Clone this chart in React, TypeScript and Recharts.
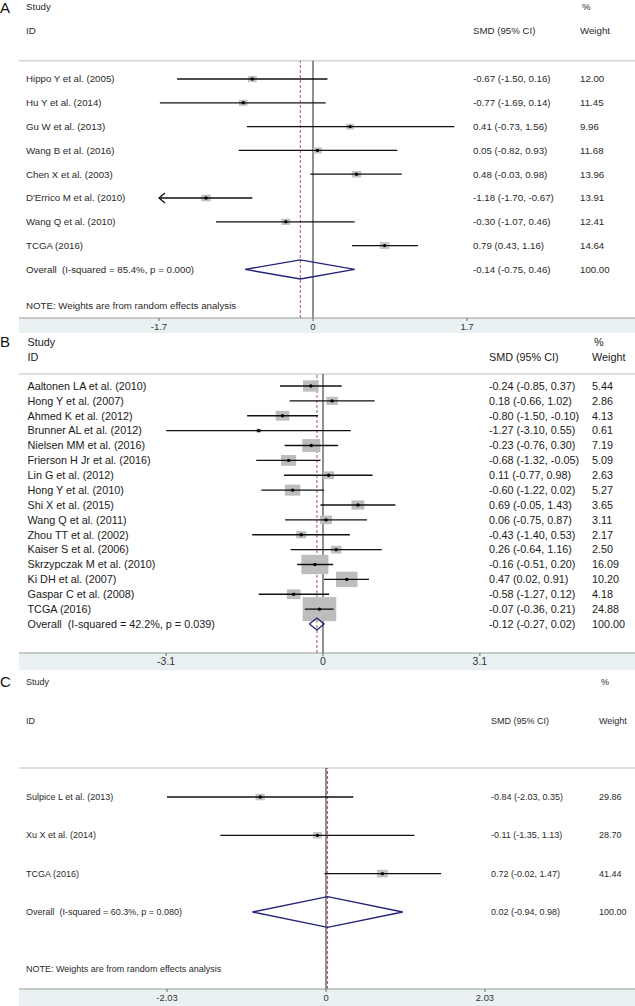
import React from 'react';
import { ComposedChart, Scatter, XAxis, YAxis, ReferenceLine } from 'recharts';

// ---- Panel A data ----
const studiesA = [
  'Hippo Y et al. (2005)',
  'Hu Y et al. (2014)',
  'Gu W et al. (2013)',
  'Wang B et al. (2016)',
  'Chen X et al. (2003)',
  "D'Errico M et al. (2010)",
  'Wang Q et al. (2010)',
  'TCGA (2016)',
];
const smdA = [-0.67, -0.77, 0.41, 0.05, 0.48, -1.18, -0.3, 0.79];
const lowA = [-1.5, -1.69, -0.73, -0.82, -0.03, -1.7, -1.07, 0.43];
const highA = [0.16, 0.14, 1.56, 0.93, 0.98, -0.67, 0.46, 1.16];
const weightA = [12.0, 11.45, 9.96, 11.68, 13.96, 13.91, 12.41, 14.64];
const arrowA = [false, false, false, false, false, true, false, false];
const overallA = { label: 'Overall  (I-squared = 85.4%, p = 0.000)', smd: -0.14, low: -0.75, high: 0.46 };
const ticksA = [-1.7, 0, 1.7];

// ---- Panel B data ----
const studiesB = [
  'Aaltonen LA et al. (2010)',
  'Hong Y et al. (2007)',
  'Ahmed K et al. (2012)',
  'Brunner AL et al. (2012)',
  'Nielsen MM et al. (2016)',
  'Frierson H Jr et al. (2016)',
  'Lin G et al. (2012)',
  'Hong Y et al. (2010)',
  'Shi X et al. (2015)',
  'Wang Q et al. (2011)',
  'Zhou TT et al. (2002)',
  'Kaiser S et al. (2006)',
  'Skrzypczak M et al. (2010)',
  'Ki DH et al. (2007)',
  'Gaspar C et al. (2008)',
  'TCGA (2016)',
];
const smdB = [-0.24, 0.18, -0.8, -1.27, -0.23, -0.68, 0.11, -0.6, 0.69, 0.06, -0.43, 0.26, -0.16, 0.47, -0.58, -0.07];
const lowB = [-0.85, -0.66, -1.5, -3.1, -0.76, -1.32, -0.77, -1.22, -0.05, -0.75, -1.4, -0.64, -0.51, 0.02, -1.27, -0.36];
const highB = [0.37, 1.02, -0.1, 0.55, 0.3, -0.05, 0.98, 0.02, 1.43, 0.87, 0.53, 1.16, 0.2, 0.91, 0.12, 0.21];
const weightB = [5.44, 2.86, 4.13, 0.61, 7.19, 5.09, 2.63, 5.27, 3.65, 3.11, 2.17, 2.5, 16.09, 10.2, 4.18, 24.88];
const arrowB = studiesB.map(() => false);
const overallB = { label: 'Overall  (I-squared = 42.2%, p = 0.039)', smd: -0.12, low: -0.27, high: 0.02 };
const ticksB = [-3.1, 0, 3.1];

// ---- Panel C data ----
const studiesC = ['Sulpice L et al. (2013)', 'Xu X et al. (2014)', 'TCGA (2016)'];
const smdC = [-0.84, -0.11, 0.72];
const lowC = [-2.03, -1.35, -0.02];
const highC = [0.35, 1.13, 1.47];
const weightC = [29.86, 28.7, 41.44];
const arrowC = [false, false, false];
const overallC = { label: 'Overall  (I-squared = 60.3%, p = 0.080)', smd: 0.02, low: -0.94, high: 0.98 };
const ticksC = [-2.03, 0, 2.03];

const NOTE = 'NOTE: Weights are from random effects analysis';
const FONT = '"Liberation Sans", Arial, Helvetica, sans-serif';
const W = 635;
const LEFT = 19;

const fmt = (v: number) => v.toFixed(2);
const Empty = () => <g />;

const ForestPanel = ({ cfg }: { cfg: any }) => {
  const { names, smd, low, high, weight, arrows, overall, ticks } = cfg;
  const limit = ticks[ticks.length - 1];
  const n = names.length;
  const xMin = (LEFT - cfg.zeroX) / cfg.ppu;
  const xMax = (W - cfg.zeroX) / cfg.ppu;
  const yTop = (cfg.sepY - cfg.rowY0) / cfg.rowStep;
  const yBot = (cfg.axisY - cfg.rowY0) / cfg.rowStep;
  const noteIdx = cfg.noteY != null ? (cfg.noteY - cfg.rowY0) / cfg.rowStep : null;

  // one label point per row; the text is placed on the row's y from the axis scale
  const rows: any[] = names.map((name: string, i: number) => ({
    x: 0,
    y: i,
    name,
    ci: `${fmt(smd[i])} (${fmt(low[i])}, ${fmt(high[i])})`,
    w: fmt(weight[i]),
  }));
  rows.push({ x: 0, y: n, name: overall.label, ci: `${fmt(overall.smd)} (${fmt(overall.low)}, ${fmt(overall.high)})`, w: '100.00' });
  if (noteIdx != null) rows.push({ x: 0, y: noteIdx, name: NOTE, ci: '', w: '' });

  const boxes = names.map((_: string, i: number) => ({ x: smd[i], y: i, w: weight[i] }));
  const ciLines = names.map((_: string, i: number) => [
    { x: Math.max(low[i], -limit), y: i },
    { x: high[i], y: i },
  ]);
  const diamond = [
    { x: overall.low, y: n },
    { x: overall.smd, y: n - 0.4 },
    { x: overall.high, y: n },
    { x: overall.smd, y: n + 0.4 },
    { x: overall.low, y: n },
  ];
  const arrowPts = names
    .map((_: string, i: number) => ({ x: -limit, y: i, on: arrows[i] }))
    .filter((p: any) => p.on);

  const txt = { fontFamily: FONT, fontSize: cfg.fontSize, fill: cfg.textFill };

  const RowText = (props: any) => {
    const { cy, payload } = props;
    return (
      <g>
        <text x={cfg.nameX} y={cy} dy="0.35em" {...txt} xmlSpace="preserve" style={{ whiteSpace: 'pre' }}>
          {payload.name}
        </text>
        {payload.ci ? (
          <text x={cfg.ciX} y={cy} dy="0.35em" {...txt}>
            {payload.ci}
          </text>
        ) : null}
        {payload.w ? (
          <text x={cfg.wX} y={cy} dy="0.35em" {...txt}>
            {payload.w}
          </text>
        ) : null}
      </g>
    );
  };

  const Box = (props: any) => {
    const { cx, cy, payload } = props;
    const h = cfg.boxScale * Math.sqrt(payload.w);
    const w = h * 1.4;
    return <rect x={cx - w / 2} y={cy - h / 2} width={w} height={h} fill={cfg.boxFill} />;
  };
  const Dot = (props: any) => <circle cx={props.cx} cy={props.cy} r={1.7} fill="#000" />;
  const Arrow = (props: any) => (
    <path
      d={`M${props.cx + 6},${props.cy - 5} L${props.cx},${props.cy} L${props.cx + 6},${props.cy + 5}`}
      fill="none"
      stroke="#111"
      strokeWidth={1.3}
    />
  );

  return (
    <div style={{ position: 'absolute', left: 0, top: cfg.top, width: W, height: cfg.height }}>
      <div
        style={{
          position: 'absolute',
          left: LEFT,
          top: cfg.axisY,
          width: W - LEFT,
          height: cfg.height - cfg.axisY,
          background: '#eaf1f3',
        }}
      />
      <div style={{ position: 'absolute', left: 0, top: 0 }}>
        <ComposedChart width={W} height={cfg.height} margin={{ top: cfg.sepY, left: LEFT, right: 0, bottom: 0 }}>
          <XAxis
            type="number"
            dataKey="x"
            domain={[xMin, xMax]}
            allowDataOverflow
            ticks={ticks}
            interval={0}
            tickFormatter={(v: number) => String(v)}
            height={cfg.height - cfg.axisY}
            tickSize={3}
            axisLine={{ stroke: '#9a9a9a' }}
            tickLine={{ stroke: '#666' }}
            tick={{ fontFamily: FONT, fontSize: cfg.tickFont, fill: '#333' }}
          />
          <YAxis type="number" dataKey="y" domain={[yTop, yBot]} reversed allowDataOverflow hide />
          <ReferenceLine y={yTop} stroke="#d4d4d4" strokeWidth={1.5} />
          <ReferenceLine x={0} stroke="#222" strokeWidth={1} />
          <ReferenceLine x={overall.smd} stroke="#a8574f" strokeWidth={1} strokeDasharray="3 2" />
          <Scatter data={boxes} shape={Box} isAnimationActive={false} />
          {ciLines.map((seg: any, i: number) => (
            <Scatter
              key={i}
              data={seg}
              fill="none"
              line={{ stroke: '#111', strokeWidth: 1.3 }}
              shape={Empty}
              isAnimationActive={false}
            />
          ))}
          <Scatter data={boxes} shape={Dot} isAnimationActive={false} />
          <Scatter data={arrowPts} shape={Arrow} isAnimationActive={false} />
          <Scatter
            data={diamond}
            fill="none"
            line={{ stroke: '#23237a', strokeWidth: 1.4 }}
            shape={Empty}
            isAnimationActive={false}
          />
          <Scatter data={rows} shape={RowText} isAnimationActive={false} />
          <text x={0} y={cfg.letterY} dy="0.35em" fontFamily={FONT} fontSize={15} fill="#111">
            {cfg.letter}
          </text>
          <text x={cfg.nameX} y={cfg.studyY} dy="0.35em" {...txt}>Study</text>
          <text x={cfg.wX + 2} y={cfg.studyY} dy="0.35em" {...txt}>%</text>
          <text x={cfg.nameX} y={cfg.idY} dy="0.35em" {...txt}>ID</text>
          <text x={cfg.ciX} y={cfg.idY} dy="0.35em" {...txt}>SMD (95% CI)</text>
          <text x={cfg.wX} y={cfg.idY} dy="0.35em" {...txt}>Weight</text>
        </ComposedChart>
      </div>
    </div>
  );
};

const panelA = {
  letter: 'A', top: 0, height: 333, sepY: 60.7, rowY0: 79, rowStep: 23.8, axisY: 318, noteY: 306,
  zeroX: 313, ppu: 90.6, fontSize: 9.7, tickFont: 9.5, studyY: 7, idY: 31, letterY: 8,
  nameX: 26, ciX: 473, wX: 580, boxScale: 1.8, boxFill: '#c4c4c4', textFill: '#2a2a2a',
  names: studiesA, smd: smdA, low: lowA, high: highA, weight: weightA, arrows: arrowA, overall: overallA, ticks: ticksA,
};
const panelB = {
  letter: 'B', top: 333, height: 337, sepY: 41, rowY0: 53, rowStep: 14.875, axisY: 320,
  zeroX: 323, ppu: 50.6, fontSize: 10.8, tickFont: 10.5, studyY: 9, idY: 24, letterY: 9,
  nameX: 27.5, ciX: 489, wX: 592, boxScale: 4.81, boxFill: '#bdbdbd', textFill: '#1a1a1a',
  names: studiesB, smd: smdB, low: lowB, high: highB, weight: weightB, arrows: arrowB, overall: overallB, ticks: ticksB,
};
const panelC = {
  letter: 'C', top: 670, height: 336, sepY: 98, rowY0: 127, rowStep: 38.33, axisY: 319, noteY: 299,
  zeroX: 326, ppu: 78.3, fontSize: 9, tickFont: 9.4, studyY: 12, idY: 51, letterY: 12,
  nameX: 26, ciX: 491, wX: 599, boxScale: 1.2, boxFill: '#c4c4c4', textFill: '#2a2a2a',
  names: studiesC, smd: smdC, low: lowC, high: highC, weight: weightC, arrows: arrowC, overall: overallC, ticks: ticksC,
};

export default function App() {
  return (
    <div style={{ position: 'absolute', left: 0, top: 0, width: W, height: 1006, background: '#fff', overflow: 'hidden' }}>
      <ForestPanel cfg={panelA} />
      <ForestPanel cfg={panelB} />
      <ForestPanel cfg={panelC} />
    </div>
  );
}
